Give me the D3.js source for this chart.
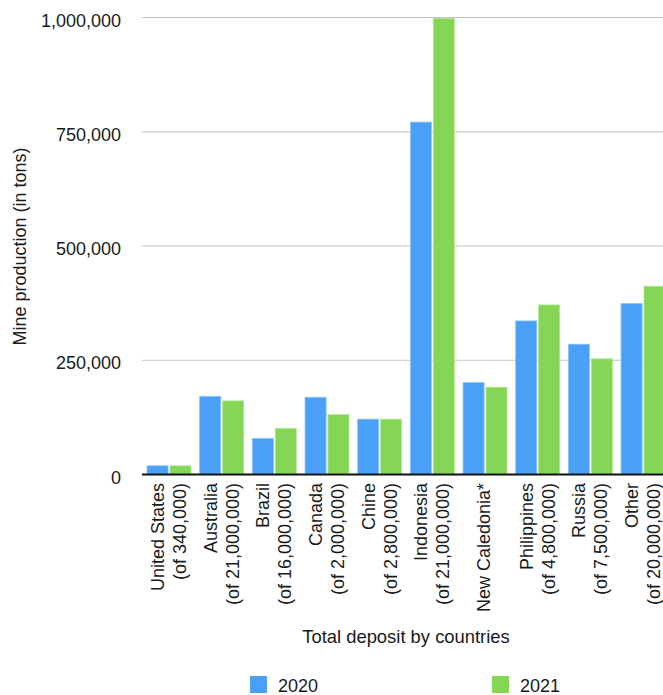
<!DOCTYPE html>
<html>
<head>
<meta charset="utf-8">
<script src="https://cdn.jsdelivr.net/npm/d3@7"></script>
<style>
  html, body { margin: 0; padding: 0; background: #fff; }
  svg { display: block; font-family: "Liberation Sans", Arial, Helvetica, sans-serif; }
</style>
</head>
<body>
<svg id="chart" width="663" height="695"></svg>
<script>
const countries = ["United States", "Australia", "Brazil", "Canada", "Chine", "Indonesia", "New Caledonia*", "Philippines", "Russia", "Other"];
const deposits = ["(of 340,000)", "(of 21,000,000)", "(of 16,000,000)", "(of 2,000,000)", "(of 2,800,000)", "(of 21,000,000)", "", "(of 4,800,000)", "(of 7,500,000)", "(of 20,000,000)"];
const series = ["2020", "2021"];
const values2020 = [18000, 170000, 78000, 168000, 120000, 770000, 200000, 335000, 284000, 373000];
const values2021 = [18000, 160000, 100000, 130000, 120000, 997000, 190000, 370000, 252000, 411000];
const yTicks = [0, 250000, 500000, 750000, 1000000];
const colors = ["#4aa0f7", "#86d655"];

const svg = d3.select("#chart");
const plotLeft = 142, plotRight = 668.7, plotTop = 17, plotBottom = 474;

const x0 = d3.scaleBand().domain(countries).range([plotLeft, plotRight]).padding(0);
const x1 = d3.scaleBand().domain(series).range([5, 49]).paddingInner(0.08);
const y = d3.scaleLinear().domain([0, 1000000]).range([plotBottom, plotTop]);

const fmt = d3.format(",");

// gridlines
const grid = svg.append("g")
  .attr("transform", `translate(${plotLeft},0)`)
  .call(d3.axisLeft(y).tickValues(yTicks).tickSize(-(663 - plotLeft)).tickFormat(""));
grid.select(".domain").remove();
grid.selectAll("line").attr("stroke", "#c4c4c4").attr("stroke-width", 1.2);

// y tick labels
const yax = svg.append("g")
  .attr("transform", `translate(121,0)`)
  .call(d3.axisLeft(y).tickValues(yTicks).tickSize(0).tickPadding(0).tickFormat(fmt));
yax.select(".domain").remove();
yax.selectAll("text")
  .attr("font-size", 18)
  .attr("fill", "#1a1a1a")
  .attr("font-family", "Liberation Sans, Arial, sans-serif")
  .attr("dy", "0.5em");

// bars
const data = countries.map((c, i) => ({ c, vals: [values2020[i], values2021[i]] }));
const groups = svg.append("g").selectAll("g").data(data).join("g")
  .attr("transform", d => `translate(${x0(d.c)},0)`);
groups.selectAll("rect").data(d => d.vals.map((v, j) => ({ s: series[j], v, j })))
  .join("rect")
  .attr("x", d => x1(d.s))
  .attr("width", x1.bandwidth())
  .attr("y", d => y(d.v))
  .attr("height", d => plotBottom - y(d.v))
  .attr("fill", d => colors[d.j])
  .attr("stroke", d => d.j === 0 ? "#8cc4fa" : "#b6e79a")
  .attr("stroke-width", 0.8);

// x axis line
svg.append("line")
  .attr("x1", plotLeft).attr("x2", 663)
  .attr("y1", plotBottom + 0.5).attr("y2", plotBottom + 0.5)
  .attr("stroke", "#111").attr("stroke-width", 2.2);

// x category labels
const xl = svg.append("g");
countries.forEach((c, i) => {
  const cx = x0(c) + x0.bandwidth() / 2;
  const lines = deposits[i] ? [c, deposits[i]] : [c];
  const offsets = lines.length === 2 ? [-10.5, 11.5] : [0];
  lines.forEach((t, k) => {
    xl.append("text")
      .attr("transform", `translate(${cx + offsets[k]},483) rotate(-90)`)
      .attr("text-anchor", "end")
      .attr("dominant-baseline", "central")
      .attr("font-size", 18)
      .attr("fill", "#1a1a1a")
      .text(t);
  });
});

// axis titles
svg.append("text")
  .attr("transform", `translate(20,246.5) rotate(-90)`)
  .attr("text-anchor", "middle")
  .attr("dominant-baseline", "central")
  .attr("font-size", 18)
  .attr("fill", "#1a1a1a")
  .text("Mine production (in tons)");

svg.append("text")
  .attr("x", 406).attr("y", 643)
  .attr("text-anchor", "middle")
  .attr("font-size", 18.4)
  .attr("fill", "#1a1a1a")
  .text("Total deposit by countries");

// legend
const legendX = [250, 492];
series.forEach((s, i) => {
  svg.append("rect")
    .attr("x", legendX[i]).attr("y", 676)
    .attr("width", 17).attr("height", 17)
    .attr("fill", colors[i]);
  svg.append("text")
    .attr("x", legendX[i] + 28).attr("y", 692)
    .attr("font-size", 18)
    .attr("fill", "#1a1a1a")
    .text(s);
});
</script>
</body>
</html>
